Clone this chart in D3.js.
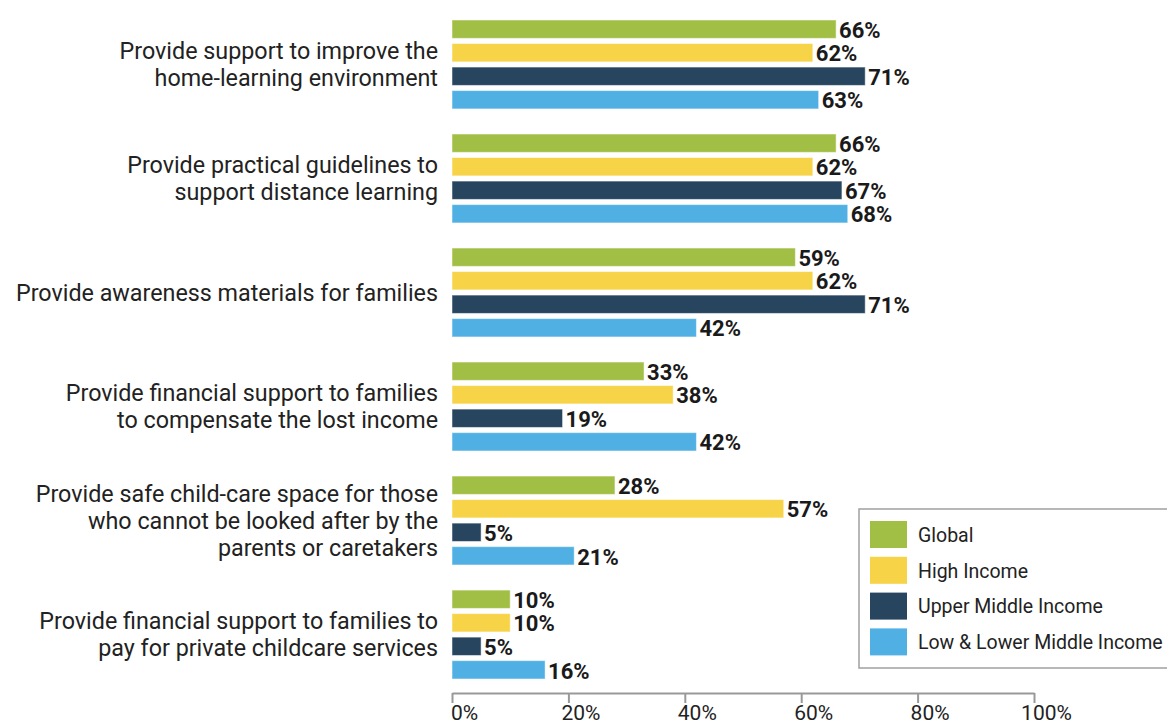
<!DOCTYPE html>
<html>
<head>
<meta charset="utf-8">
<script src="https://cdn.jsdelivr.net/npm/d3@7"></script>
<style>
  body { margin: 0; background: #fff; }
  svg { display: block; font-family: Roboto, "Noto Sans", sans-serif; }
</style>
</head>
<body>
<svg id="chart" width="1167" height="727"></svg>
<script>
// categories, each split into display lines
const categories = [
    ["Provide support to improve the", "home-learning environment"],
    ["Provide practical guidelines to", "support distance learning"],
    ["Provide awareness materials for families"],
    ["Provide financial support to families", "to compensate the lost income"],
    ["Provide safe child-care space for those", "who cannot be looked after by the", "parents or caretakers"],
    ["Provide financial support to families to", "pay for private childcare services"]
];

const seriesNames = ["Global", "High Income", "Upper Middle Income", "Low & Lower Middle Income"];
const seriesColors = ["#a2bf45", "#f7d348", "#27455f", "#50b0e4"];

const globalValues = [66, 66, 59, 33, 28, 10];
const highIncomeValues = [62, 62, 62, 38, 57, 10];
const upperMiddleValues = [71, 67, 71, 19, 5, 5];
const lowerMiddleValues = [63, 68, 42, 42, 21, 16];

const tickValues = [0, 20, 40, 60, 80, 100];

const seriesValues = [globalValues, highIncomeValues, upperMiddleValues, lowerMiddleValues];

const svg = d3.select("#chart");

const x = d3.scaleLinear().domain([0, 100]).range([452, 1034]);

const yGroup = d3.scaleBand()
    .domain(d3.range(categories.length))
    .range([20, 679])
    .paddingInner(0.22)
    .paddingOuter(0);

const ySeries = d3.scaleBand()
    .domain(d3.range(seriesNames.length))
    .range([0, yGroup.bandwidth()])
    .paddingInner(0.22)
    .paddingOuter(0);

// flatten into one row per bar
const rows = [];
categories.forEach((c, i) => {
    seriesValues.forEach((vals, s) => {
        rows.push({ cat: i, s: s, value: vals[i] });
    });
});

const bars = svg.append("g").attr("class", "bars");

bars.selectAll("rect")
    .data(rows)
    .enter()
    .append("rect")
    .attr("x", x(0))
    .attr("y", d => yGroup(d.cat) + ySeries(d.s))
    .attr("width", d => x(d.value) - x(0))
    .attr("height", ySeries.bandwidth())
    .attr("fill", d => seriesColors[d.s])
    .attr("stroke", "#ffffff")
    .attr("stroke-opacity", 0.5)
    .attr("stroke-width", 1);

bars.selectAll("text")
    .data(rows)
    .enter()
    .append("text")
    .attr("x", d => x(d.value) + 3)
    .attr("y", d => yGroup(d.cat) + ySeries(d.s) + ySeries.bandwidth() / 2 + 1)
    .attr("dy", "0.35em")
    .attr("font-size", 22)
    .attr("font-weight", "bold")
    .attr("fill", "#1a1a1a")
    .text(d => d.value + "%");

// category labels, right aligned and centred on the group
const lineH = 27;
const labels = svg.append("g").attr("class", "cat-labels");

labels.selectAll("text")
    .data(categories)
    .enter()
    .append("text")
    .attr("text-anchor", "end")
    .attr("font-size", 23.3)
    .attr("fill", "#222")
    .each(function (lines, i) {
        const mid = yGroup(i) + yGroup.bandwidth() / 2;
        const top = mid - (lines.length - 1) * lineH / 2;
        d3.select(this).selectAll("tspan")
            .data(lines)
            .enter()
            .append("tspan")
            .attr("x", 438)
            .attr("y", (l, j) => top + j * lineH)
            .attr("dy", "0.35em")
            .text(l => l);
    });

// x axis
const axis = svg.append("g")
    .attr("transform", "translate(0,693)")
    .call(d3.axisBottom(x)
        .tickValues(tickValues)
        .tickSize(10)
        .tickSizeOuter(0)
        .tickFormat(d => d + "%"));

axis.select(".domain").attr("stroke", "#999").attr("stroke-width", 2);
axis.selectAll(".tick line").attr("stroke", "#999").attr("stroke-width", 2).attr("y1", 0);
axis.selectAll(".tick text")
    .attr("font-family", "Roboto, sans-serif")
    .attr("font-size", 21)
    .attr("fill", "#222")
    .attr("y", 12)
    .attr("dx", 12)
    .attr("dy", "0.71em");

// legend
const legend = svg.append("g").attr("transform", "translate(859,509)");

legend.append("rect")
    .attr("x", 0)
    .attr("y", 0)
    .attr("width", 330)
    .attr("height", 159)
    .attr("fill", "#fff")
    .attr("stroke", "#a0a0a0")
    .attr("stroke-width", 1.5);

const items = legend.selectAll("g.item")
    .data(seriesNames)
    .enter()
    .append("g")
    .attr("class", "item")
    .attr("transform", (d, i) => `translate(11,${12 + i * 35.8})`);

items.append("rect")
    .attr("width", 37)
    .attr("height", 27)
    .attr("fill", (d, i) => seriesColors[i]);

items.append("text")
    .attr("x", 48)
    .attr("y", 14)
    .attr("dy", "0.35em")
    .attr("font-size", 19.5)
    .attr("fill", "#222")
    .text(d => d);
</script>
</body>
</html>
